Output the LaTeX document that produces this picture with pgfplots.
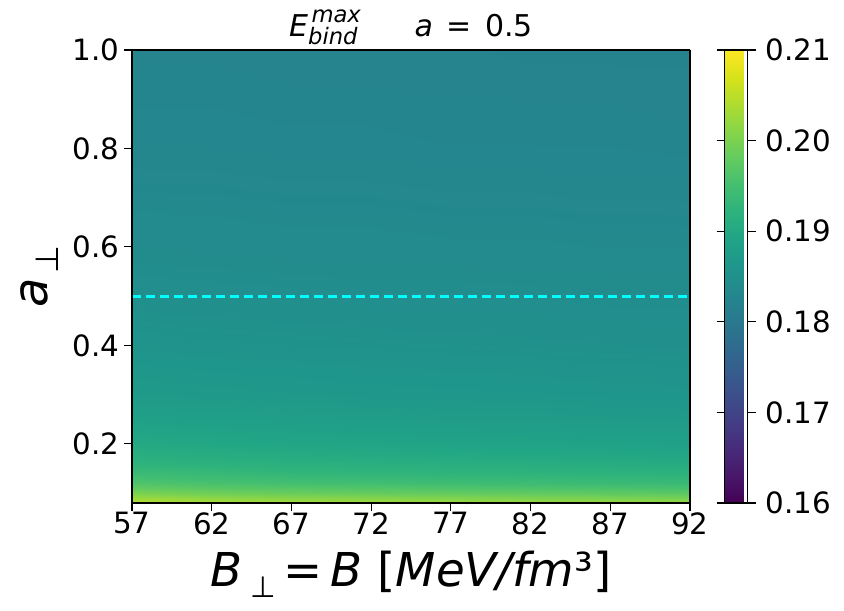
\documentclass[border=0pt]{standalone}
\usepackage{fontspec}
\setmainfont{DejaVu Sans}
\usepackage{pgfplots}
\usepackage{pgfplotstable}
\pgfplotsset{compat=1.18}
\definecolor{cyanrgb}{RGB}{0,255,255}
\pgfplotstableread{
x y c
57 0.08 0.2045
62 0.08 0.2035
67 0.08 0.2030
72 0.08 0.2028
77 0.08 0.2025
82 0.08 0.2022
87 0.08 0.2020
92 0.08 0.2018
57 0.09 0.2025
62 0.09 0.2015
67 0.09 0.2010
72 0.09 0.2008
77 0.09 0.2005
82 0.09 0.2002
87 0.09 0.2000
92 0.09 0.1998
57 0.10 0.2000
62 0.10 0.1990
67 0.10 0.1985
72 0.10 0.1982
77 0.10 0.1980
82 0.10 0.1978
87 0.10 0.1975
92 0.10 0.1972
57 0.11 0.1980
62 0.11 0.1972
67 0.11 0.1968
72 0.11 0.1965
77 0.11 0.1962
82 0.11 0.1960
87 0.11 0.1958
92 0.11 0.1955
57 0.12 0.1962
62 0.12 0.1955
67 0.12 0.1950
72 0.12 0.1948
77 0.12 0.1945
82 0.12 0.1943
87 0.12 0.1940
92 0.12 0.1938
57 0.14 0.1940
62 0.14 0.1935
67 0.14 0.1930
72 0.14 0.1928
77 0.14 0.1926
82 0.14 0.1924
87 0.14 0.1922
92 0.14 0.1920
57 0.17 0.1918
62 0.17 0.1913
67 0.17 0.1910
72 0.17 0.1908
77 0.17 0.1906
82 0.17 0.1904
87 0.17 0.1902
92 0.17 0.1900
57 0.20 0.1902
62 0.20 0.1898
67 0.20 0.1895
72 0.20 0.1893
77 0.20 0.1891
82 0.20 0.1890
87 0.20 0.1888
92 0.20 0.1886
57 0.25 0.1885
62 0.25 0.1882
67 0.25 0.1880
72 0.25 0.1878
77 0.25 0.1876
82 0.25 0.1875
87 0.25 0.1873
92 0.25 0.1872
57 0.30 0.1872
62 0.30 0.1870
67 0.30 0.1868
72 0.30 0.1866
77 0.30 0.1865
82 0.30 0.1864
87 0.30 0.1862
92 0.30 0.1861
57 0.40 0.1858
62 0.40 0.1856
67 0.40 0.1855
72 0.40 0.1854
77 0.40 0.1853
82 0.40 0.1852
87 0.40 0.1851
92 0.40 0.1850
57 0.50 0.1848
62 0.50 0.1847
67 0.50 0.1846
72 0.50 0.1845
77 0.50 0.1845
82 0.50 0.1844
87 0.50 0.1843
92 0.50 0.1843
57 0.60 0.1840
62 0.60 0.1839
67 0.60 0.1838
72 0.60 0.1838
77 0.60 0.1837
82 0.60 0.1837
87 0.60 0.1836
92 0.60 0.1836
57 0.80 0.1830
62 0.80 0.1830
67 0.80 0.1829
72 0.80 0.1829
77 0.80 0.1828
82 0.80 0.1828
87 0.80 0.1828
92 0.80 0.1827
57 1.00 0.1825
62 1.00 0.1825
67 1.00 0.1824
72 1.00 0.1824
77 1.00 0.1824
82 1.00 0.1823
87 1.00 0.1823
92 1.00 0.1823
}\heat
\begin{document}
\begin{tikzpicture}
\useasboundingbox (-99pt,-81pt) rectangle (534pt,377.25pt);
\begin{axis}[
  at={(0,0)}, anchor=south west,
  scale only axis,
  width=418.5pt, height=339.75pt,
  view={0}{90},
  xmin=57, xmax=92, ymin=0.08, ymax=1.0,
  xtick={57,62,67,72,77,82,87,92},
  ytick={0.2,0.4,0.6,0.8,1.0},
  yticklabel style={/pgf/number format/fixed,/pgf/number format/precision=1,/pgf/number format/fixed zerofill},
  xticklabel style={yshift=2.5pt},
  /pgf/number format/assume math mode=true,
  tick align=outside, xtick pos=left, ytick pos=left,
  major tick length=6pt,
  tick style={black, line width=0.8pt},
  axis line style={line width=0.8pt},
  ticklabel style={font=\fontsize{22}{26}\selectfont},
  title={\fontsize{22.5}{27}\selectfont{\itshape E}\raisebox{-0.5ex}{\fontsize{17}{17}\selectfont\itshape\rlap{\hspace{0.15em}\raisebox{1.75ex}{max}}bind}\hspace{1.9em}{\itshape a}\hspace{0.45em}=\hspace{0.45em}0.5},
  title style={yshift=-5.5pt},
  xlabel={\fontsize{35}{40}\selectfont{\itshape B}\,\raisebox{-0.45ex}{\fontsize{22}{22}\selectfont⊥}\,=\,{\itshape B} [{\itshape MeV/fm}³]},
  ylabel={\fontsize{36}{40}\selectfont{\itshape a}\raisebox{-0.45ex}{\fontsize{24}{24}\selectfont\,⊥}},
  xlabel style={yshift=-5.5pt},
  ylabel style={yshift=3.5pt},
  colormap name=viridis,
  point meta min=0.16, point meta max=0.21,
  colorbar,
  colorbar shift/.style={xshift=26pt},
  colorbar style={
    at={(parent axis.north east)}, anchor=north west,
    width=17.25pt,
    ytick={0.16,0.17,0.18,0.19,0.20,0.21},
    yticklabel style={font=\fontsize{22}{26}\selectfont,/pgf/number format/fixed,/pgf/number format/precision=2,/pgf/number format/fixed zerofill, xshift=4pt},
    /pgf/number format/assume math mode=true,
    tick align=outside, major tick length=6pt,
    tick style={black, line width=0.8pt},
    axis line style={line width=0.8pt},
  },
]
\addplot3[surf, shader=interp, mesh/cols=8, point meta=\thisrow{c}] table[x=x, y=y, z expr=0] {\heat};
\addplot3[cyanrgb, line width=2pt, dash pattern=on 7pt off 3.5pt] coordinates {(57,0.5,0) (92,0.5,0)};
\end{axis}
\end{tikzpicture}
\end{document}
